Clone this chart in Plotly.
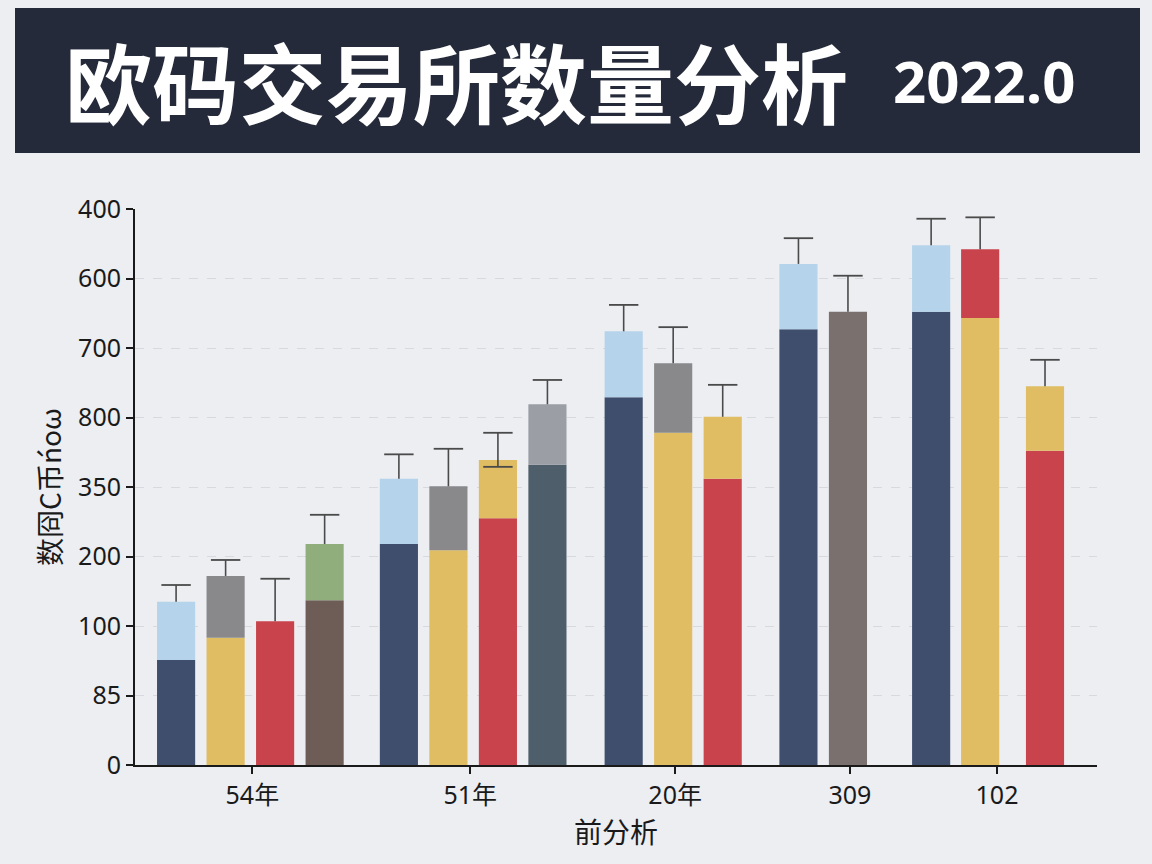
import plotly.graph_objects as go

# ---- data ----
group_labels = ["54年", "51年", "20年", "309", "102"]
group_pos = [2.37, 6.77, 10.91, 14.44, 17.41]

y_tick_text = ["0", "85", "100", "200", "350", "800", "700", "600", "400"]

bar_x = [0.83, 1.83, 2.83, 3.83,
         5.33, 6.33, 7.33, 8.33,
         9.87, 10.87, 11.87,
         13.40, 14.40,
         16.08, 17.07, 18.38]
bottom_vals = [1.51, 1.83, 2.07, 2.37,
               3.18, 3.09, 3.55, 4.32,
               5.29, 4.78, 4.12,
               6.27, 6.52,
               6.52, 6.43, 4.52]
total_vals = [2.35, 2.72, 2.07, 3.18,
              4.12, 4.01, 4.39, 5.19,
              6.24, 5.78, 5.01,
              7.21, 6.52,
              7.48, 7.42, 5.45]
err_plus = [0.24, 0.23, 0.61, 0.42,
            0.35, 0.54, 0.39, 0.35,
            0.38, 0.52, 0.46,
            0.37, 0.52,
            0.38, 0.46, 0.38]
err_minus = [0, 0, 0, 0,
             0, 0, 0.10, 0,
             0, 0, 0,
             0, 0,
             0, 0, 0]
bottom_colors = ["#3f4e6d", "#e0bc62", "#c8434c", "#6e5d56",
                 "#3f4e6d", "#e0bc62", "#c8434c", "#4e5e6b",
                 "#3f4e6d", "#e0bc62", "#c8434c",
                 "#3f4e6d", "#7a716e",
                 "#3f4e6d", "#e0bc62", "#c8434c"]
top_colors = ["#b5d3ea", "#89888b", "#c8434c", "#8fae7b",
              "#b5d3ea", "#89888b", "#e0bc62", "#9b9ea4",
              "#b5d3ea", "#89888b", "#e0bc62",
              "#b5d3ea", "#7a716e",
              "#b5d3ea", "#c8434c", "#e0bc62"]

ERR_COLOR = "#4a4a4a"

fig = go.Figure()
fig.add_trace(go.Bar(x=bar_x, y=bottom_vals, base=[0] * len(bar_x),
                     marker=dict(color=bottom_colors, line=dict(width=0)),
                     width=0.77, showlegend=False, hoverinfo="skip"))
fig.add_trace(go.Bar(x=bar_x, y=[t - b for t, b in zip(total_vals, bottom_vals)],
                     base=bottom_vals,
                     marker=dict(color=top_colors, line=dict(width=0)),
                     width=0.77, showlegend=False, hoverinfo="skip"))
# error bar stems (no caps)
fig.add_trace(go.Scatter(x=bar_x, y=total_vals, mode="markers",
                         marker=dict(size=1, color="rgba(0,0,0,0)"),
                         error_y=dict(type="data", symmetric=False, array=err_plus,
                                      arrayminus=err_minus, color=ERR_COLOR,
                                      thickness=1.6, width=0),
                         showlegend=False, hoverinfo="skip"))
# upper caps
fig.add_trace(go.Scatter(x=bar_x, y=[t + e for t, e in zip(total_vals, err_plus)],
                         mode="markers",
                         marker=dict(symbol="line-ew", size=21,
                                     line=dict(color=ERR_COLOR, width=1.8)),
                         showlegend=False, hoverinfo="skip"))
# lower caps (only where a lower whisker exists)
low_x = [x for x, m in zip(bar_x, err_minus) if m > 0]
low_y = [t - m for t, m in zip(total_vals, err_minus) if m > 0]
fig.add_trace(go.Scatter(x=low_x, y=low_y, mode="markers",
                         marker=dict(symbol="line-ew", size=21,
                                     line=dict(color=ERR_COLOR, width=1.8)),
                         showlegend=False, hoverinfo="skip"))

L, R, T, B = 135, 55, 209, 99
W, H = 1152, 864
pw, ph = W - L - R, H - T - B

def px(xp):
    return (xp - L) / pw

def py(yp):
    return (H - B - yp) / ph

fig.update_layout(
    width=W, height=H,
    margin=dict(l=L, r=R, t=T, b=B, pad=0),
    paper_bgcolor="#eceef2", plot_bgcolor="#eceef2",
    barmode="overlay",
    font=dict(family="Noto Sans CJK SC, Noto Sans, sans-serif", color="#1a1a1a"),
    xaxis=dict(range=[0, 19.43], tickvals=group_pos, ticktext=group_labels,
               showgrid=False, zeroline=False, showline=True, linecolor="#1a1a1a",
               linewidth=2, ticks="outside", ticklen=7, tickwidth=2, tickcolor="#1a1a1a",
               tickfont=dict(size=25, family="Noto Sans, Noto Sans CJK SC"),
               title=dict(text="前分析", font=dict(size=28, family="Noto Sans CJK SC"), standoff=8)),
    yaxis=dict(range=[0, 8], tickvals=list(range(9)), ticktext=y_tick_text,
               showgrid=True, gridcolor="#d7d9de", griddash="dash", gridwidth=1,
               zeroline=False, showline=True, linecolor="#1a1a1a", linewidth=2,
               ticks="outside", ticklen=7, tickwidth=2, tickcolor="#1a1a1a",
               tickfont=dict(size=25, family="Noto Sans, Open Sans"),
               title=dict(text="数冏C币ńoω", font=dict(size=28, family="Noto Sans CJK SC"), standoff=8)),
    shapes=[dict(type="rect", xref="paper", yref="paper",
                 x0=px(15), x1=px(1140), y0=py(153), y1=py(8),
                 fillcolor="#252a3a", line=dict(width=0), layer="below")],
    annotations=[
        dict(text="<b>欧码交易所数量分析</b>", xref="paper", yref="paper",
             x=px(456), y=py(80), xanchor="center", yanchor="middle", showarrow=False,
             font=dict(size=87, color="#ffffff", family="Noto Sans CJK SC")),
        dict(text="<b>2022.0</b>", xref="paper", yref="paper",
             x=px(984), y=py(80), xanchor="center", yanchor="middle", showarrow=False,
             font=dict(size=58, color="#ffffff", family="Open Sans, Noto Sans")),
    ],
)

fig.write_html("out.html")
